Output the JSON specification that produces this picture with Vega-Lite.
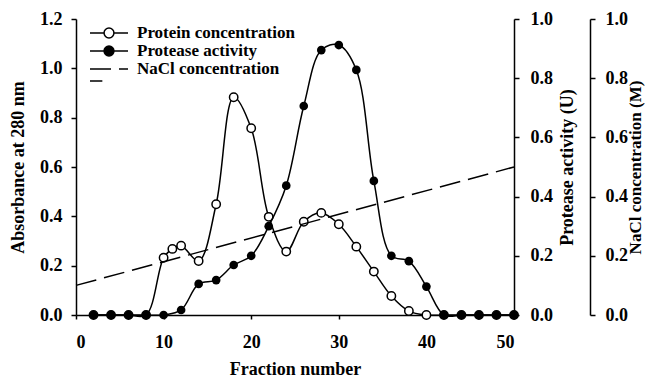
{
  "$schema": "https://vega.github.io/schema/vega-lite/v6.json",
  "width": 438,
  "height": 296,
  "autosize": {"type": "none"},
  "padding": {"left": 76, "top": 19, "right": 132, "bottom": 63},
  "background": "white",
  "datasets": {
    "protein": [
      {"fraction": 2, "value": 0},
      {"fraction": 4, "value": 0},
      {"fraction": 6, "value": 0},
      {"fraction": 8, "value": 0},
      {"fraction": 10, "value": 0.232},
      {"fraction": 11, "value": 0.268},
      {"fraction": 12, "value": 0.281},
      {"fraction": 14, "value": 0.219},
      {"fraction": 16, "value": 0.449},
      {"fraction": 18, "value": 0.883},
      {"fraction": 20, "value": 0.757},
      {"fraction": 22, "value": 0.398},
      {"fraction": 24, "value": 0.257},
      {"fraction": 26, "value": 0.378},
      {"fraction": 28, "value": 0.414},
      {"fraction": 30, "value": 0.368},
      {"fraction": 32, "value": 0.277},
      {"fraction": 34, "value": 0.176},
      {"fraction": 36, "value": 0.077},
      {"fraction": 38, "value": 0.016},
      {"fraction": 40, "value": 0},
      {"fraction": 42, "value": 0},
      {"fraction": 44, "value": 0},
      {"fraction": 46, "value": 0},
      {"fraction": 48, "value": 0},
      {"fraction": 50, "value": 0}
    ],
    "protease": [
      {"fraction": 2, "value": 0},
      {"fraction": 4, "value": 0},
      {"fraction": 6, "value": 0},
      {"fraction": 8, "value": 0},
      {"fraction": 10, "value": 0},
      {"fraction": 12, "value": 0.017},
      {"fraction": 14, "value": 0.105},
      {"fraction": 16, "value": 0.118},
      {"fraction": 18, "value": 0.169},
      {"fraction": 20, "value": 0.2},
      {"fraction": 22, "value": 0.3},
      {"fraction": 24, "value": 0.437},
      {"fraction": 26, "value": 0.706},
      {"fraction": 28, "value": 0.895},
      {"fraction": 30, "value": 0.912},
      {"fraction": 32, "value": 0.828},
      {"fraction": 34, "value": 0.453},
      {"fraction": 36, "value": 0.2},
      {"fraction": 38, "value": 0.182},
      {"fraction": 40, "value": 0.096},
      {"fraction": 42, "value": 0},
      {"fraction": 44, "value": 0},
      {"fraction": 46, "value": 0},
      {"fraction": 48, "value": 0},
      {"fraction": 50, "value": 0}
    ],
    "nacl": [
      {"fraction": 0, "value": 0.1},
      {"fraction": 50, "value": 0.5}
    ]
  },
  "encoding": {
    "x": {
      "field": "fraction",
      "type": "quantitative",
      "scale": {"domain": [0, 50], "nice": false},
      "axis": {
        "values": [0, 10, 20, 30, 40, 50],
        "format": "d",
        "title": "Fraction number",
        "tickSize": 4,
        "labelPadding": 14,
        "titlePadding": 9
      }
    }
  },
  "layer": [
    {
      "data": {"name": "protein"},
      "mark": {
        "type": "line",
        "interpolate": "catmull-rom",
        "strokeWidth": 1.5,
        "point": {"filled": true, "fill": "white", "stroke": "black", "strokeWidth": 1.5, "size": 70, "opacity": 1}
      },
      "encoding": {
        "y": {
          "field": "value",
          "type": "quantitative",
          "scale": {"domain": [0, 1.2], "nice": false},
          "axis": {
            "orient": "left",
            "values": [0, 0.2, 0.4, 0.6, 0.8, 1.0, 1.2],
            "format": ".1f",
            "title": "Absorbance at 280 nm",
            "titlePadding": 12
          }
        },
        "stroke": {
          "datum": "Protein concentration",
          "type": "nominal",
          "scale": {"range": ["black"]},
          "legend": {
            "title": null,
            "orient": "none",
            "legendX": 13,
            "legendY": 5,
            "symbolType": "M-1,0L-0.26,0M0.26,0L1,0M0.26,0C0.26,0.1436 0.1436,0.26 0,0.26C-0.1436,0.26 -0.26,0.1436 -0.26,0C-0.26,-0.1436 -0.1436,-0.26 0,-0.26C0.1436,-0.26 0.26,-0.1436 0.26,0Z",
            "symbolFillColor": "white",
            "symbolStrokeColor": "black"
          }
        }
      }
    },
    {
      "data": {"name": "protease"},
      "mark": {
        "type": "line",
        "interpolate": "catmull-rom",
        "strokeWidth": 1.5,
        "point": {"filled": true, "strokeWidth": 1, "size": 75, "opacity": 1}
      },
      "encoding": {
        "y": {
          "field": "value",
          "type": "quantitative",
          "scale": {"domain": [0, 1], "nice": false},
          "axis": {
            "orient": "right",
            "values": [0, 0.2, 0.4, 0.6, 0.8, 1.0],
            "format": ".1f",
            "title": "Protease activity (U)",
            "titleAngle": 270,
            "titleBaseline": "top",
            "labelPadding": 11,
            "titlePadding": 6
          }
        },
        "color": {
          "datum": "Protease activity",
          "type": "nominal",
          "scale": {"range": ["black"]},
          "legend": {
            "title": null,
            "orient": "none",
            "legendX": 13,
            "legendY": 23,
            "symbolType": "M-1,0L-0.26,0M0.26,0L1,0M0.26,0C0.26,0.1436 0.1436,0.26 0,0.26C-0.1436,0.26 -0.26,0.1436 -0.26,0C-0.26,-0.1436 -0.1436,-0.26 0,-0.26C0.1436,-0.26 0.26,-0.1436 0.26,0Z",
            "symbolFillColor": "black",
            "symbolStrokeColor": "black"
          }
        }
      }
    },
    {
      "data": {"name": "nacl"},
      "mark": {"type": "line", "color": "black", "strokeWidth": 1.5},
      "encoding": {
        "y": {
          "field": "value",
          "type": "quantitative",
          "scale": {"domain": [0, 1], "nice": false},
          "axis": {
            "orient": "right",
            "offset": 76,
            "values": [0, 0.2, 0.4, 0.6, 0.8, 1.0],
            "format": ".1f",
            "title": "NaCl concentration (M)",
            "titleAngle": 270,
            "titleBaseline": "top",
            "titleFontSize": 17,
            "labelPadding": 10,
            "titlePadding": 0
          }
        },
        "strokeDash": {
          "datum": "NaCl concentration",
          "type": "nominal",
          "scale": {"range": [[21, 8]]},
          "legend": {
            "title": null,
            "orient": "none",
            "legendX": 13,
            "legendY": 35,
            "clipHeight": 30,
            "symbolType": "M-1,0L1,0M-1,0.63L-0.35,0.63",
            "symbolFillColor": "white",
            "symbolStrokeColor": "black"
          }
        }
      }
    }
  ],
  "resolve": {"scale": {"y": "independent"}},
  "config": {
    "view": {"stroke": null},
    "legend": {
      "padding": 0,
      "symbolSize": 1444,
      "symbolStrokeWidth": 1.5,
      "clipHeight": 18,
      "rowPadding": 0,
      "labelOffset": 8,
      "labelFont": "Liberation Serif",
      "labelFontSize": 17,
      "labelFontWeight": "bold",
      "labelColor": "black"
    },
    "axis": {
      "grid": false,
      "labelFont": "Liberation Serif",
      "labelFontSize": 18,
      "labelFontWeight": "bold",
      "labelColor": "black",
      "titleFont": "Liberation Serif",
      "titleFontSize": 18,
      "titleFontWeight": "bold",
      "titleColor": "black",
      "domainColor": "black",
      "domainWidth": 1.5,
      "tickColor": "black",
      "tickWidth": 1.5,
      "tickSize": 5,
      "labelPadding": 9
    }
  }
}
